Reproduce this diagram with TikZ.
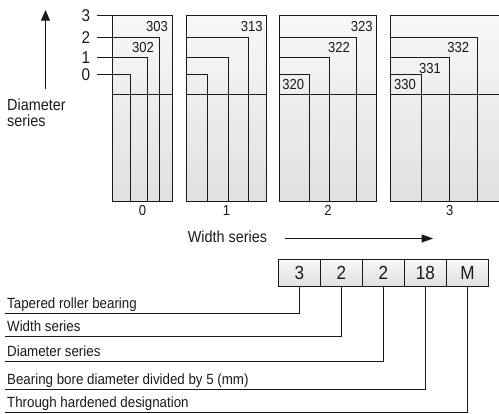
\documentclass[tikz,border=0pt]{standalone}
\usepackage{fontspec}
\setmainfont[FakeStretch=0.9]{Liberation Sans}
\usetikzlibrary{arrows.meta,positioning,calc}
\definecolor{ink}{HTML}{1A1A1A}
\definecolor{shadehi}{HTML}{F8F8F8}
\definecolor{shadelo}{HTML}{E0E0E0}

\tikzset{
  seriesbox/.style={draw=ink,line width=1.3pt,top color=shadehi,bottom color=shadelo,
    inner sep=0pt,outer sep=0pt,anchor=north west,minimum height=186pt},
  rowline/.style={draw=ink,line width=1.2pt},
  codebox/.style={draw=ink,line width=1.1pt,top color=shadehi,bottom color=shadelo,
    minimum width=42pt,minimum height=27pt,inner sep=0pt,outer sep=0pt,
    font=\fontsize{19}{19}\selectfont},
  leader/.style={draw=ink,line width=1.1pt},
  dianum/.style={inner xsep=6.5pt,inner ysep=0pt,font=\fontsize{17}{17}\selectfont},
  seriesnum/.style={inner sep=1pt,font=\fontsize{14.5}{14.5}\selectfont},
  axislab/.style={inner sep=2pt,font=\fontsize{16}{15.5}\selectfont},
  desc/.style={inner sep=2pt,anchor=base west,font=\fontsize{14.8}{14.8}\selectfont}
}

\begin{document}
\begin{tikzpicture}[x=1pt,y=-1pt,color=ink]
    \useasboundingbox (0,0) rectangle (499,414);
    \clip (0,0) rectangle (499,414);
    % width series boxes
    \node[seriesbox,minimum width=60pt] (b0) at (112.5,15.5) {};
    \node[seriesbox,minimum width=80pt] (b1) at (186.5,15.5) {};
    \node[seriesbox,minimum width=97pt] (b2) at (279.5,15.5) {};
    \node[seriesbox,minimum width=118.5pt] (b3) at (390.5,15.5) {};
    % dividers
    \draw[rowline] (112.5,94.5) -- (172.5,94.5);
    \draw[rowline] (186.5,94.5) -- (266.5,94.5);
    \draw[rowline] (279.5,94.5) -- (376.5,94.5);
    \draw[rowline] (390.5,94.5) -- (509,94.5);
    % diameter lines, box 0
    \draw[rowline] (112.5,74.5) -| (130.5,201.5);
    \draw[rowline] (112.5,57.5) -| (147.5,201.5);
    \draw[rowline] (112.5,37.5) -| (159.5,201.5);
    % box 1
    \draw[rowline] (186.5,74.5) -| (207.5,201.5);
    \draw[rowline] (186.5,57.5) -| (228.5,201.5);
    \draw[rowline] (186.5,37.5) -| (248.5,201.5);
    % box 2
    \draw[rowline] (279.5,74.5) -| (309.5,201.5);
    \draw[rowline] (279.5,57.5) -| (329.5,201.5);
    \draw[rowline] (279.5,37.5) -| (356.5,201.5);
    % box 3
    \draw[rowline] (390.5,74.5) -| (421.5,201.5);
    \draw[rowline] (390.5,57.5) -| (449.5,201.5);
    \draw[rowline] (390.5,37.5) -| (477.5,201.5);
    % series numbers
    \node[seriesnum] (n303) at (157,27) {303};
    \node[seriesnum] (n302) at (143,47.5) {302};
    \node[seriesnum] (n313) at (251.7,27) {313};
    \node[seriesnum] (n323) at (361.7,27) {323};
    \node[seriesnum] (n322) at (339,47.5) {322};
    \node[seriesnum] (n320) at (293.3,85) {320};
    \node[seriesnum] (n332) at (458.3,47.5) {332};
    \node[seriesnum] (n331) at (430,69) {331};
    \node[seriesnum] (n330) at (405,85) {330};
    % diameter series
    \node[dianum] (d3) at (86,15.5) {3};
    \node[dianum] (d2) at (86,37.5) {2};
    \node[dianum] (d1) at (86,57.5) {1};
    \node[dianum] (d0) at (86,74.5) {0};
    \draw[rowline] (d3.east) -- (d3.east -| b0.west);
    \draw[rowline] (d2.east) -- (d2.east -| b0.west);
    \draw[rowline] (d1.east) -- (d1.east -| b0.west);
    \draw[rowline] (d0.east) -- (d0.east -| b0.west);
    \node[axislab,align=left,anchor=north west] (dlab) at (5,97) {Diameter\\series};
    \coordinate (upfoot) at (45.5,89);
    \coordinate (uptip) at (45.5,10);
    \draw[line width=1.3pt,-{Triangle[length=10.7pt,width=9pt]}] (upfoot) -- (uptip);
    % width series
    \node[seriesnum,below=3pt of b0] (w0) {0};
    \node[seriesnum,below=3pt of b1] (w1) {1};
    \node[seriesnum,below=3pt of b2] (w2) {2};
    \node[seriesnum,below=3pt of b3] (w3) {3};
    \node[axislab] (wlab) at (227.5,237) {Width series};
    \coordinate (wtip) at (433.3,238.5);
    \draw[line width=1.3pt,-{Triangle[length=11.6pt,width=7.7pt]}] ([xshift=16pt]wlab.east |- wtip) -- (wtip);
    % designation
    \node[codebox] (c1) at (299.5,273) {3};
    \node[codebox,right=0pt of c1] (c2) {2};
    \node[codebox,right=0pt of c2] (c3) {2};
    \node[codebox,right=0pt of c3] (c4) {18};
    \node[codebox,right=0pt of c4] (c5) {M};
    \node[desc] (t1) at (5,308.5) {Tapered roller bearing};
    \node[desc] (t2) at (5,331.5) {Width series};
    \node[desc] (t3) at (5,356.5) {Diameter series};
    \node[desc] (t4) at (5,384.5) {Bearing bore diameter divided by 5 (mm)};
    \node[desc] (t5) at (5,407.5) {Through hardened designation};
    \draw[leader] (c1.south) |- ([yshift=-5pt]t1.base west);
    \draw[leader] (c2.south) |- ([yshift=-5pt]t2.base west);
    \draw[leader] (c3.south) |- ([yshift=-5pt]t3.base west);
    \draw[leader] (c4.south) |- ([yshift=-5pt]t4.base west);
    \draw[leader] (c5.south) |- ([yshift=-5pt]t5.base west);
  \end{tikzpicture}
\end{document}
